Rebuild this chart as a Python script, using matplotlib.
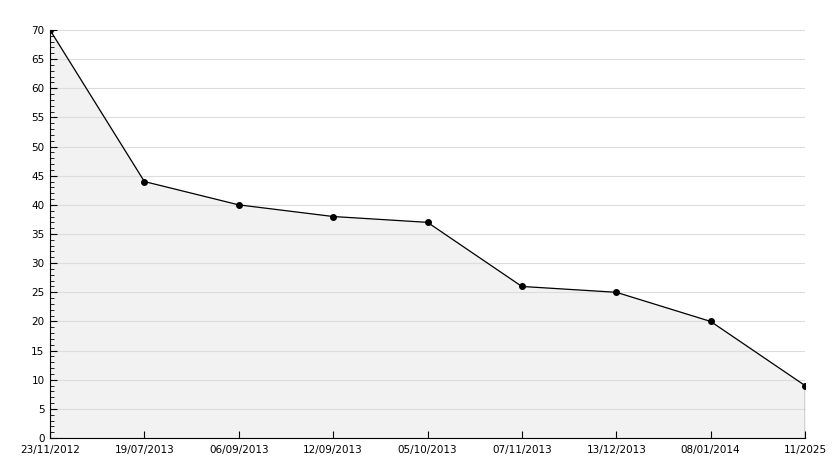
import matplotlib
matplotlib.use("Agg")
import matplotlib.pyplot as plt
from matplotlib.ticker import MultipleLocator

dates = ["23/11/2012", "19/07/2013", "06/09/2013", "12/09/2013", "05/10/2013",
         "07/11/2013", "13/12/2013", "08/01/2014", "11/2025"]
values = [70, 44, 40, 38, 37, 26, 25, 20, 9]

fig = plt.figure(figsize=(8.34, 4.68), dpi=100)
ax = fig.add_axes([50/834, 30/468, 755/834, 408/468])
x = list(range(len(values)))
ax.fill_between(x, values, 0, color="#f2f2f2", zorder=1)
ax.plot(x, values, color="black", lw=0.9, marker="o", ms=4, zorder=3)
ax.plot([x[-1], x[-1]], [0, values[-1]], color="black", lw=0.9, zorder=3)
ax.set_xlim(0, len(values) - 1)
ax.set_ylim(0, 70)
ax.yaxis.set_major_locator(MultipleLocator(5))
ax.yaxis.set_minor_locator(MultipleLocator(1))
ax.set_xticks(x)
ax.set_xticklabels(dates)
ax.grid(axis="y", color="#dddddd", lw=0.8, zorder=0)
for s in ["top", "right"]:
    ax.spines[s].set_visible(False)
ax.tick_params(axis="both", direction="in", labelsize=7.5, length=5, width=0.8)
ax.tick_params(axis="y", which="minor", direction="in", length=3)
ax.tick_params(axis="x", pad=5)
ax.tick_params(axis="y", pad=4)
fig.savefig("out.png", dpi=100)
